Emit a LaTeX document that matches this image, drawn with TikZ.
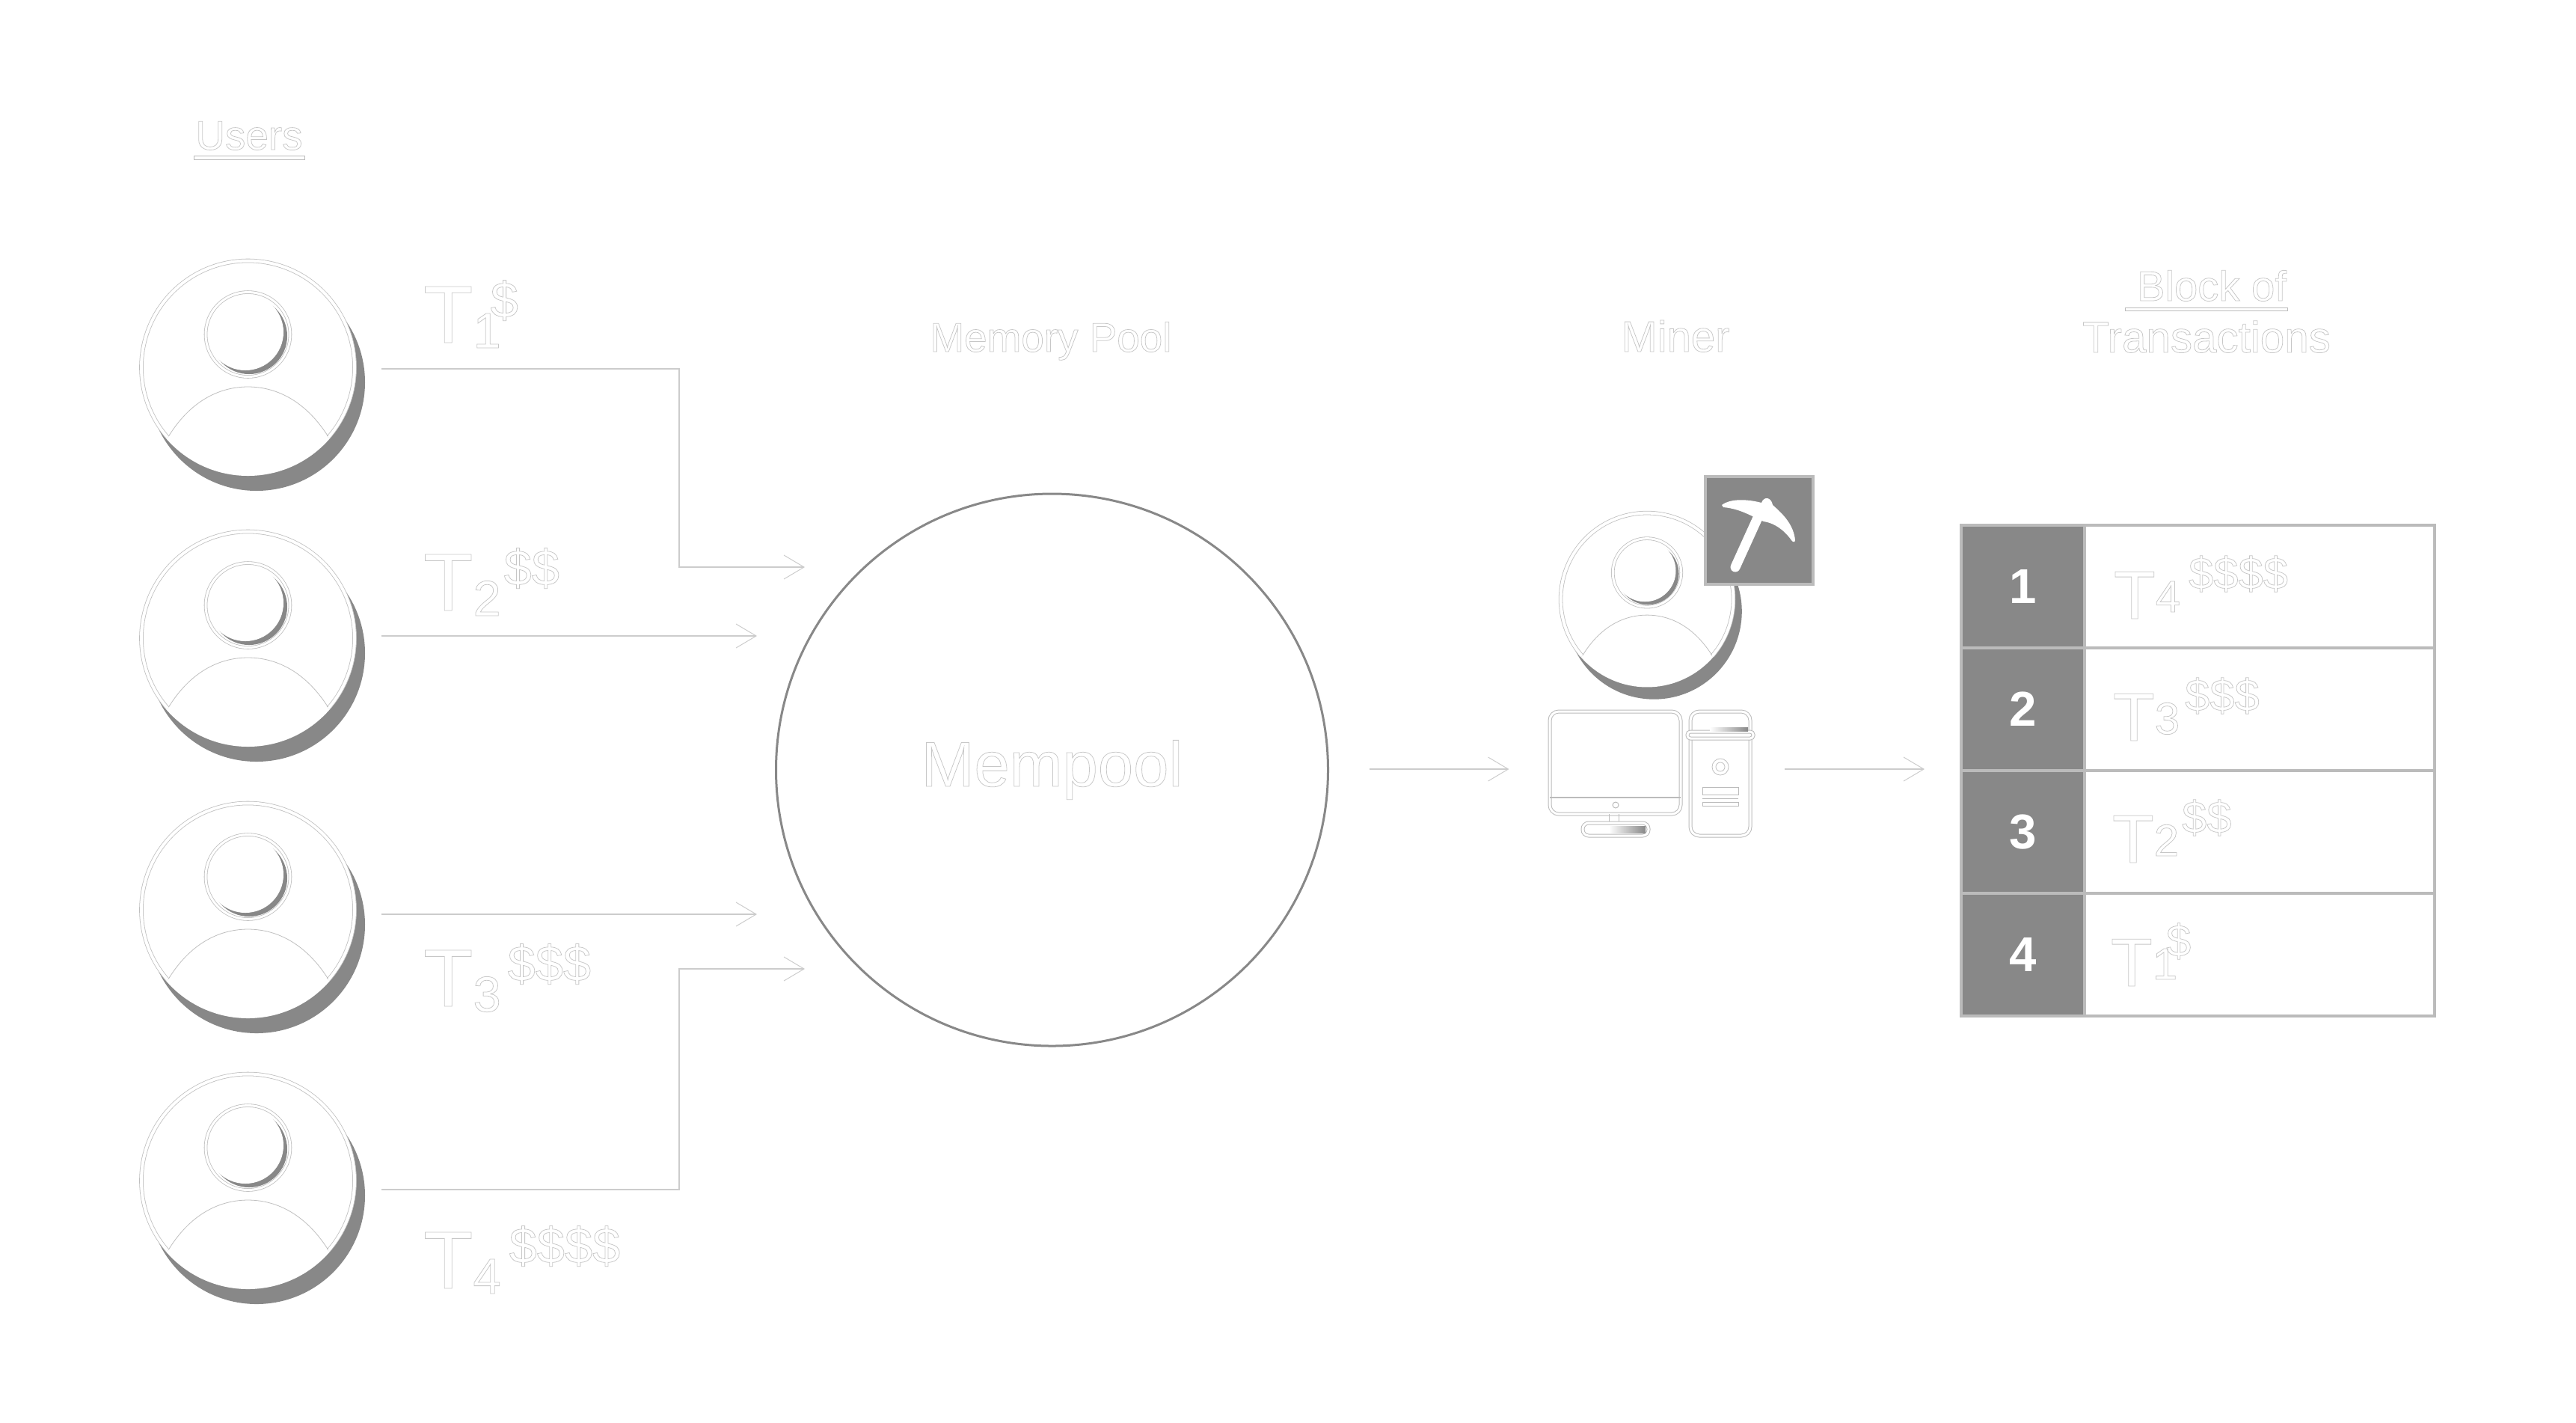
\documentclass[tikz,border=0pt]{standalone}
\usepackage{fontspec}
\setmainfont{Liberation Sans}
\usetikzlibrary{arrows.meta,positioning}

\definecolor{shadegray}{HTML}{888888}
\definecolor{framegray}{HTML}{BBBBBB}
\definecolor{linegray}{HTML}{CCCCCC}

\newcommand\hollow[1]{\special{pdf:code 1 Tr 0.22 w 0.78 G}#1\special{pdf:code 0 Tr 0 G}}
\newcommand\txlabel[7]{\hollow{{\fontsize{#1}{#1}\selectfont T}{\fontsize{#2}{#2}\selectfont\raisebox{#3cm}{#5}\kern#7cm\raisebox{#4cm}{#6}}}}
\newcommand\usertx{\txlabel{31}{19}{-.07}{.34}}
\newcommand\blocktx{\txlabel{26}{17}{.09}{.40}}

\tikzstyle{every node}=[inner sep=0pt, outer sep=0pt]
\tikzstyle{title}=[anchor=base, font=\fontsize{16}{16}\selectfont]
\tikzstyle{txtext}=[anchor=base west]
\tikzstyle{rule}=[draw=framegray, line width=.01cm, fill=white]
\tikzstyle{edge}=[draw=linegray, line width=.02cm]
\tikzstyle{arrow}=[edge, -{Straight Barb[length=.27cm,width=.32cm,line width=.01cm]}]
\tikzstyle{hull}=[draw=framegray, line width=.01cm, double=white, double distance=.03cm]
\tikzstyle{facing}=[draw=black!25, line width=.008cm, double=white, double distance=.04cm]
\tikzstyle{userspot}=[circle, minimum size=2.9cm]
\tikzstyle{rankcell}=[draw=framegray, line width=.035cm, fill=shadegray, text=white, minimum width=1.65cm, minimum height=1.64cm, font=\bfseries\fontsize{18.6}{18.6}\selectfont]
\tikzstyle{txcell}=[draw=framegray, line width=.035cm, fill=white, minimum width=4.68cm, minimum height=1.64cm]

\tikzset{userface/.pic={
    \fill[shadegray] (.115,-.20) circle (1.45);
    \fill[white] (0,0) circle (1.45);
    \draw[facing] (221:1.425) arc (221:-41:1.425);
    \fill[shadegray] (.015,.42) circle (.51);
    \fill[white] (-.035,.47) circle (.51);
    \draw[facing, double distance=.03cm] (0,.44) circle (.565);
    \draw[draw=black!25, line width=.008cm] (-1.06,-.92) .. controls (-.75,-.42) and (-.35,-.26) .. (0,-.26) .. controls (.35,-.26) and (.75,-.42) .. (1.07,-.92);
}}

\begin{document}
\begin{tikzpicture}
    \useasboundingbox (0,0) rectangle (34.44,-19.01);

    % users
    \foreach \i/\yy in {1/4.91,2/8.53,3/12.16,4/15.78} {
        \node [userspot] (user\i) at (3.315,-\yy) {};
        \pic at (user\i) {userface};
    }
    \node [title, font=\fontsize{15.6}{15.6}\selectfont] (users) at (3.33,-2.00) {\hollow{Users}};
    \path [rule] (2.59,-2.08) rectangle (4.07,-2.13);

    \foreach \i/\yy/\cash/\gap in {1/4.58/\$/-.14, 2/8.16/\$\$/.04, 3/13.45/\$\$\$/.09, 4/17.22/\$\$\$\$/.11} {
        \node [txtext] (tx\i) at (5.66,-\yy) {\usertx{\i}{\cash}{\gap}};
    }

    % mempool
    \node [circle, draw=shadegray, line width=.03cm, minimum size=7.38cm, font=\fontsize{24.2}{24.2}\selectfont] (mempool) at (14.065,-10.29) {\raisebox{-.05cm}{\hollow{Mempool}}};
    \node [title, font=\fontsize{15.6}{15.6}\selectfont] (pooltitle) at (14.05,-4.70) {\hollow{Memory Pool}};

    \coordinate (in1) at (10.76,-7.58);
    \coordinate (in2) at (10.12,-8.50);
    \coordinate (in3) at (10.12,-12.22);
    \coordinate (in4) at (10.76,-12.95);
    \draw [arrow] ([xshift=.33cm,yshift=-.02cm]user1.east) -| (9.08,-7.58) -- (in1);
    \draw [arrow] ([xshift=.33cm,yshift=.03cm]user2.east) -- (in2);
    \draw [arrow] ([xshift=.33cm,yshift=-.06cm]user3.east) -- (in3);
    \draw [arrow] ([xshift=.33cm,yshift=-.12cm]user4.east) -| (9.08,-12.95) -- (in4);

    % miner
    \node [userspot, minimum size=2.35cm] (miner) at (22.02,-8.01) {};
    \pic [scale=.81] at (miner) {userface};
    \node [title, font=\fontsize{16.5}{16.5}\selectfont] (minertitle) at (22.40,-4.70) {\hollow{Miner}};
    \node [draw=framegray, line width=.045cm, fill=shadegray, minimum size=1.44cm] (badge) at (23.52,-7.09) {};
    \fill [white] (23.02,-6.75) .. controls (23.15,-6.65) and (23.40,-6.68) .. (23.55,-6.72)
        .. controls (23.58,-6.63) and (23.68,-6.64) .. (23.70,-6.75)
        .. controls (23.85,-6.88) and (23.98,-7.02) .. (24.00,-7.22)
        .. controls (24.00,-7.25) and (23.97,-7.25) .. (23.95,-7.22)
        .. controls (23.85,-7.08) and (23.72,-6.99) .. (23.58,-6.97)
        .. controls (23.45,-6.92) and (23.28,-6.80) .. (23.04,-6.78) -- cycle;
    \draw [white, line width=.13cm, line cap=round] (23.50,-6.92) -- (23.20,-7.58);

    \node [hull, rounded corners=.12cm, minimum width=1.75cm, minimum height=1.37cm] (monitor) at (21.595,-10.195) {};
    \draw [draw=framegray, line width=.012cm] (20.72,-10.66) -- (22.47,-10.66);
    \draw [draw=framegray, line width=.01cm] (21.60,-10.76) circle (.04);
    \draw [draw=framegray, line width=.01cm] (21.51,-10.88) -- (21.51,-11.00) (21.64,-10.88) -- (21.64,-11.00);
    \draw [hull, rounded corners=.08cm] (21.16,-11.17) -- (21.16,-11.00) -- (22.04,-11.00) -- (22.04,-11.17) -- cycle;
    \shade [left color=white, right color=shadegray] (21.51,-11.04) rectangle (22.00,-11.13);

    \node [hull, rounded corners=.12cm, minimum width=.80cm, minimum height=1.66cm] (tower) at (23.00,-10.34) {};
    \draw [hull, rounded corners=.04cm, fill=white] (22.56,-9.78) rectangle (23.44,-9.87);
    \shade [left color=white, right color=shadegray] (22.86,-9.72) rectangle (23.37,-9.77);
    \draw [draw=black!25, line width=.008cm] (23.00,-10.25) circle (.11) (23.00,-10.25) circle (.06);
    \draw [draw=framegray, line width=.01cm] (22.76,-10.52) rectangle (23.24,-10.62) (22.76,-10.67) -- (23.24,-10.67) (22.76,-10.72) rectangle (23.24,-10.77);

    \draw [arrow] ([xshift=.55cm,yshift=.01cm]mempool.east) -- ++(1.87,0);
    \coordinate (pcout) at (23.86,-10.28);
    \coordinate (blockin) at (25.73,-10.28);
    \draw [arrow] (pcout) -- (blockin);

    % block of transactions
    \node [title] (blocktitle) at (29.57,-4.02) {\hollow{Block of}};
    \path [rule] (28.41,-4.11) rectangle (30.58,-4.15);
    \node [title, font=\fontsize{16.6}{16.6}\selectfont] (txtitle) at (29.50,-4.71) {\hollow{Transactions}};

    \foreach \i/\yy in {1/7.84,2/9.48,3/11.12,4/12.76} {
        \node [rankcell] (rank\i) at (27.045,-\yy) {\i};
        \node [txcell, right=0pt of rank\i] (row\i) {};
    }
    \foreach \i/\xx/\yy/\cash/\gap in {4/28.26/8.27/\$\$\$\$/.11, 3/28.25/9.90/\$\$\$/.07, 2/28.24/11.53/\$\$/.04, 1/28.22/13.18/\$/-.15} {
        \node [txtext] (blocktx\i) at (\xx,-\yy) {\blocktx{\i}{\cash}{\gap}};
    }
\end{tikzpicture}
\end{document}
